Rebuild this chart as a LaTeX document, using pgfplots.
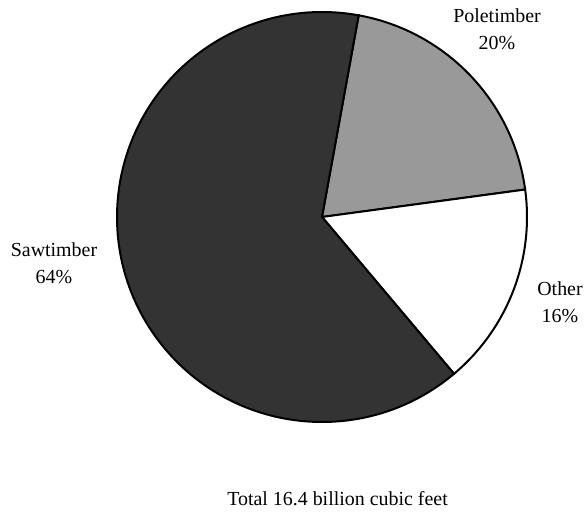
\documentclass[border=0pt]{standalone}
\usepackage{pgfplots}
\pgfplotsset{compat=1.18}
\usepackage{pgfplotstable}
\usepackage{fontspec}
\setmainfont{Liberation Serif}
\definecolor{sawGray}{RGB}{51,51,51}
\definecolor{poleGray}{RGB}{153,153,153}

% share of total volume, clockwise from the top
\pgfplotstableread{
label pct fill
Poletimber 20 poleGray
Other 16 white
Sawtimber 64 sawGray
}\piedata

\tikzset{pielabel/.style={anchor=base, font=\fontsize{20}{24}\selectfont}}

\begin{document}
\begin{tikzpicture}
\begin{axis}[
    width=587bp, height=514bp, scale only axis,
    xmin=0, xmax=587, ymin=0, ymax=514,
    enlargelimits=false, hide axis, clip=false,
]
\path[draw=none] (axis cs:0,0) rectangle (axis cs:587,514);
\pgfmathsetmacro{\angA}{79.7}
\pgfplotsinvokeforeach{0,1,2}{
    \pgfplotstablegetelem{#1}{pct}\of\piedata
    \pgfmathsetmacro{\angB}{\angA-3.6*\pgfplotsretval}
    \pgfplotstablegetelem{#1}{fill}\of\piedata
    \edef\piewedge{\noexpand\filldraw[fill=\pgfplotsretval, draw=black, line width=2bp]
        (axis cs:322,297) -- ++(\angA:205bp) arc[start angle=\angA, end angle=\angB, radius=205bp] -- cycle;}
    \piewedge
    \global\let\angA\angB
}
\node[pielabel] at (axis cs:497,491) {Poletimber};
\node[pielabel] at (axis cs:497,464) {20\%};
\node[pielabel] at (axis cs:54,257) {Sawtimber};
\node[pielabel] at (axis cs:54,230) {64\%};
\node[pielabel] at (axis cs:560,218) {Other};
\node[pielabel] at (axis cs:560,191) {16\%};
\node[pielabel] at (axis cs:337.5,9) {Total 16.4 billion cubic feet};
\end{axis}
\end{tikzpicture}
\end{document}
